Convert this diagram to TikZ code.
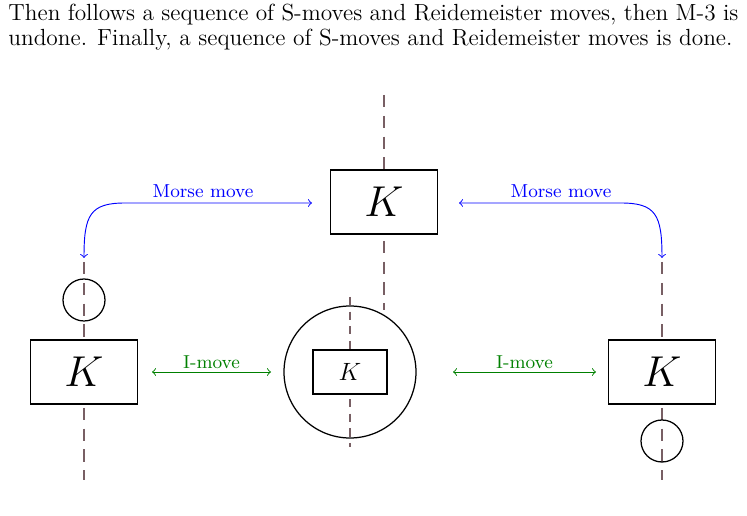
\documentclass[tikz,border=0pt]{standalone}
\begin{document}
\begin{tikzpicture}[x=0.48pt,y=-0.48pt,
  dl/.style={draw={rgb,255:red,120;green,95;blue,100},line width=1.2pt,dash pattern=on 6pt off 4pt},
  dls/.style={draw={rgb,255:red,120;green,95;blue,100},line width=0.7pt,dash pattern=on 4pt off 3pt},
  kbox/.style={draw,fill=white,line width=0.6pt,minimum width=107*0.48pt,minimum height=64*0.48pt,font=\huge,inner sep=0pt},
  mv/.style={<->,>=to,line width=0.45pt},
  lab/.style={font=\small,inner sep=1.5pt,above}]
\useasboundingbox (0,0) rectangle (747,516);
\node[anchor=north west,text width=730*0.48pt,align=justify,inner sep=0pt,font=\fontsize{11.2}{12}\selectfont] (txt) at (8,4) {Then follows a sequence of S-moves and Reidemeister moves, then M-3 is\linebreak undone. Finally, a sequence of S-moves and Reidemeister moves is done.};
% dashed strands
\draw[dl] (384,95) -- (384,310);
\draw[dl] (84,262) -- (84,480);
\draw[dl] (662,262) -- (662,480);
\draw[dls] (350,297) -- (350,447);
% boxes
\node[kbox] (top) at (384,202) {$K$};
\node[kbox] (left) at (84,372) {$K$};
\node[kbox] (right) at (662,372) {$K$};
\node[draw,circle,line width=0.6pt,minimum size=42*0.48pt,inner sep=0pt] (lc) at (84,300) {};
\node[draw,circle,line width=0.6pt,minimum size=42*0.48pt,inner sep=0pt] (rc) at (662,441) {};
\node[draw,circle,line width=0.6pt,minimum size=132*0.48pt,inner sep=0pt] (mc) at (350,372) {};
\node[draw,fill=white,line width=0.6pt,minimum width=74*0.48pt,minimum height=44*0.48pt,inner sep=0pt,font=\large] (mk) at (350,372) {$K$};
% moves
\coordinate (a1) at (152,372); \coordinate (a2) at (271,372);
\coordinate (b1) at (453,372); \coordinate (b2) at (596,372);
\draw[mv,green!50!black] (a1) -- node[lab]{I-move} (a2);
\draw[mv,green!50!black] (b1) -- node[lab]{I-move} (b2);
\coordinate (m1) at (312,203); \coordinate (m2) at (84,258);
\coordinate (n1) at (459,203); \coordinate (n2) at (662,258);
\draw[mv,blue] (m1) -- (125,203) .. controls (90,203) and (84,215) .. (m2);
\draw[mv,blue] (n1) -- (621,203) .. controls (656,203) and (662,215) .. (n2);
\node[lab,blue] (ml) at (203,201) {Morse move};
\node[lab,blue] (nl) at (561,201) {Morse move};
\end{tikzpicture}
\end{document}
